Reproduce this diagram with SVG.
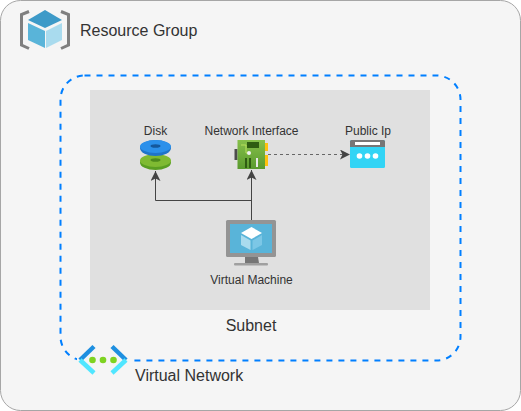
<svg xmlns="http://www.w3.org/2000/svg" width="521" height="411" viewBox="0 0 521 411">
<defs>
<style>
text{font-family:"Liberation Sans",Arial,sans-serif;fill:#333}
.t16{font-size:16px}
.t12{font-size:12px}
.conn{fill:none;stroke:#444;stroke-width:1}
</style>
<marker id="arrow" markerUnits="userSpaceOnUse" markerWidth="11" markerHeight="11" refX="10" refY="5" orient="auto"><path d="M0 0L10 5L0 10L2.500 5Z" fill="#444"/></marker>
<linearGradient id="nic" x1="0" y1="0" x2="0" y2="1"><stop offset="0" stop-color="#86c04a"/><stop offset="1" stop-color="#5a9a2e"/></linearGradient>
</defs>
<rect width="521" height="411" fill="#fff"/>
<g id="resource-group">
<rect x="0.500" y="0.500" width="520" height="410" rx="20" fill="#f5f5f5" stroke="#a6a6a6"/>
<path d="M29 11.500L21.500 14.500V45L29 48.500" fill="none" stroke="#7f7f7f" stroke-width="3"/>
<path d="M61 11.500L68.500 14.500V45L61 48.500" fill="none" stroke="#7f7f7f" stroke-width="3"/>
<path d="M45 10L62 20L45 28L28 20Z" fill="#3d9ac8"/>
<path d="M28 23L45 31V48L28 40Z" fill="#59b4d9"/>
<path d="M46 31L62 23V40L46 48Z" fill="#a9dbee"/>
<text class="t16" x="80" y="36">Resource Group</text>
</g>
<g id="virtual-network">
<rect x="60.500" y="75.500" width="400" height="285" rx="24" fill="none" stroke="#007fff" stroke-width="2" stroke-dasharray="6 6"/>
<rect x="77" y="344" width="53" height="33" fill="#f5f5f5"/>
<path d="M94 346.500L80 360" fill="none" stroke="#1e8fe0" stroke-width="4.500"/>
<path d="M80 360L94 373" fill="none" stroke="#50e6ff" stroke-width="4.500"/>
<path d="M112 346.500L126 360" fill="none" stroke="#1e8fe0" stroke-width="4.500"/>
<path d="M126 360L112 373" fill="none" stroke="#50e6ff" stroke-width="4.500"/>
<circle cx="92.500" cy="360" r="3.300" fill="#7ed321"/><circle cx="103" cy="360" r="3.300" fill="#7ed321"/><circle cx="113.500" cy="360" r="3.300" fill="#7ed321"/>
<text class="t16" x="135" y="381">Virtual Network</text>
</g>
<g id="subnet">
<rect x="90" y="90" width="340" height="220" fill="#e0e0e0"/>
<text class="t16" x="251" y="331" text-anchor="middle">Subnet</text>
</g>
<g id="connectors">
<path class="conn" d="M251.500 220V200.500H155.500V171" marker-end="url(#arrow)"/>
<path class="conn" d="M251.500 201V170" marker-end="url(#arrow)"/>
<path class="conn" d="M268 154.500H350" stroke="#666" style="stroke:#666" stroke-dasharray="3 3" marker-end="url(#arrow)"/>
</g>
<g id="disk">
<ellipse cx="155.500" cy="162.500" rx="15.500" ry="7.500" fill="#5a9e22"/>
<ellipse cx="155.500" cy="160.500" rx="15.500" ry="6.500" fill="#7fba32"/>
<ellipse cx="155.500" cy="160" rx="5" ry="1.800" fill="#4d8a1c"/>
<ellipse cx="155.500" cy="148" rx="15.500" ry="8" fill="#1f74c9"/>
<ellipse cx="155.500" cy="146.500" rx="15.500" ry="6.500" fill="#2b90ea"/>
<ellipse cx="155.500" cy="146" rx="5" ry="1.800" fill="#14589c"/>
<text class="t12" x="155.500" y="135" text-anchor="middle">Disk</text>
</g>
<g id="network-interface">
<rect x="234.500" y="149" width="3" height="11" fill="#4d4d4d"/>
<rect x="237.500" y="140" width="27.500" height="29" fill="url(#nic)"/>
<rect x="265" y="143" width="3" height="8" fill="#ffc20e"/><rect x="265" y="155" width="3" height="11" fill="#ffc20e"/>
<rect x="247" y="142" width="12" height="6" fill="#2f5d12"/>
<path d="M241 145H246V153H250" fill="none" stroke="#b9e05d"/>
<circle cx="249" cy="153" r="2" fill="#f0f0f0"/>
<rect x="245" y="158" width="2" height="10" fill="#2f5d12"/><rect x="249" y="158" width="2" height="10" fill="#2f5d12"/>
<rect x="256" y="158" width="2" height="9" fill="#e8e8e8"/>
<text class="t12" x="251.500" y="135" text-anchor="middle">Network Interface</text>
</g>
<g id="public-ip">
<rect x="350" y="140" width="35" height="28" rx="1.500" fill="#32d4f5"/>
<path d="M350 147V141.500A1.500 1.500 0 0 1 351.500 140H383.500A1.500 1.500 0 0 1 385 141.500V147Z" fill="#767676"/>
<rect x="355" y="142" width="25" height="3" fill="#fff"/>
<circle cx="359.500" cy="156" r="2.800" fill="#fff"/><circle cx="367.500" cy="156" r="2.800" fill="#fff"/><circle cx="375.500" cy="156" r="2.800" fill="#fff"/>
<text class="t12" x="368" y="135" text-anchor="middle">Public Ip</text>
</g>
<g id="virtual-machine">
<rect x="226" y="220" width="50" height="37" rx="1.500" fill="#949494"/>
<rect x="230" y="224" width="42" height="29" fill="#59b4d9"/>
<path d="M245 257H258L259 263H245Z" fill="#767676"/>
<rect x="234" y="263" width="34" height="2.500" rx="1" fill="#a0a0a0"/>
<path d="M251.500 227L262 233L251.500 239L241 233Z" fill="#fff"/>
<path d="M241 235L250.500 240.500V250L241 245Z" fill="#a9dbee"/>
<path d="M252.500 240.500L262 235V245L252.500 250Z" fill="#7cc7e6"/>
<text class="t12" x="251.500" y="284" text-anchor="middle">Virtual Machine</text>
</g>
</svg>
